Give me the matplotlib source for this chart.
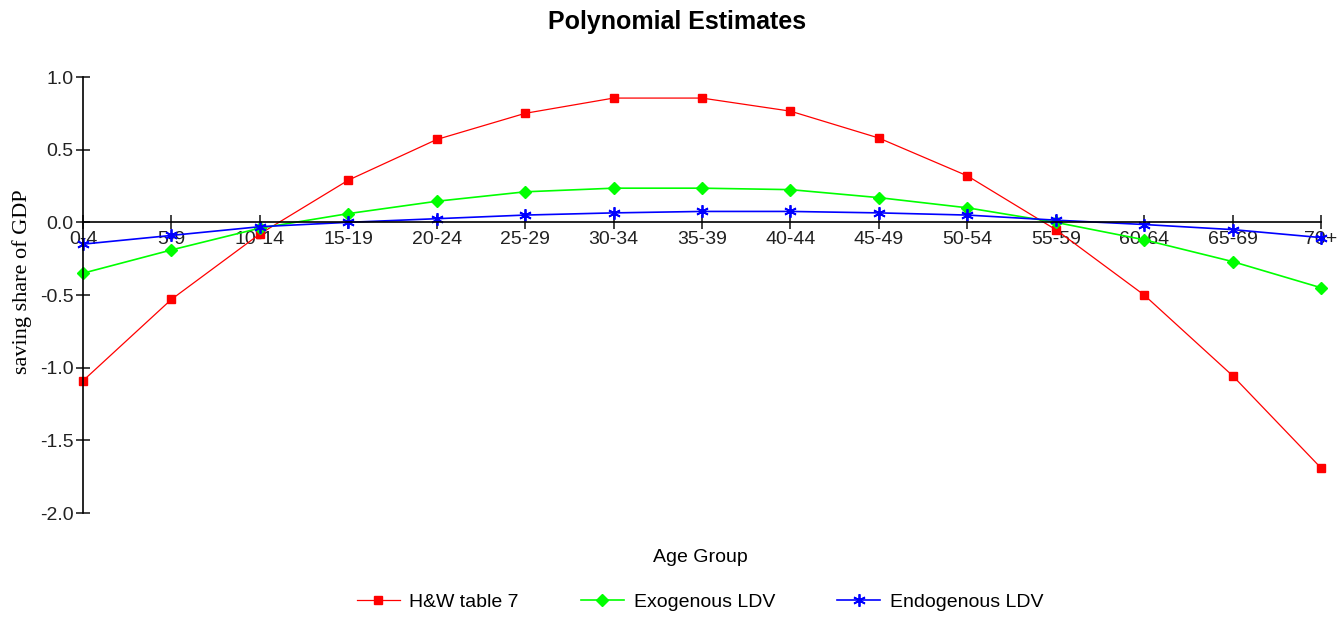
import matplotlib
matplotlib.use("Agg")
import matplotlib.pyplot as plt

# age groups and the three polynomial estimates
age_groups = ["0-4", "5-9", "10-14", "15-19", "20-24", "25-29", "30-34", "35-39",
              "40-44", "45-49", "50-54", "55-59", "60-64", "65-69", "70+"]
hw_table7 = [-1.09, -0.53, -0.08, 0.29, 0.57, 0.75, 0.855, 0.855,
             0.765, 0.58, 0.32, -0.05, -0.50, -1.055, -1.69]
exogenous = [-0.35, -0.19, -0.04, 0.06, 0.145, 0.21, 0.235, 0.235,
             0.225, 0.17, 0.10, 0.0, -0.12, -0.27, -0.45]
endogenous = [-0.15, -0.09, -0.03, 0.0, 0.025, 0.05, 0.065, 0.075,
              0.075, 0.065, 0.05, 0.015, -0.015, -0.05, -0.105]

plt.rcParams['font.family'] = ['Liberation Sans', 'DejaVu Sans']

fig = plt.figure(figsize=(13.41, 6.18), dpi=100)
ax = fig.add_axes([83/1341, 1 - 513/618, (1321 - 83)/1341, (513 - 77)/618])

x = range(len(age_groups))
ax.plot(x, hw_table7, color='#ff0000', lw=0.9, marker='s', ms=6, clip_on=False,
        label='H&W table 7')
ax.plot(x, exogenous, color='#00ff00', lw=1.2, marker='D', ms=6, clip_on=False,
        label='Exogenous LDV')
ax.plot(x, endogenous, color='#0000ff', lw=1.2, marker=(6, 2, 0), ms=9, mew=1.3,
        clip_on=False, label='Endogenous LDV')

ax.set_xlim(0, len(age_groups) - 1)
ax.set_ylim(-2.0, 1.0)
ax.set_yticks([-2.0, -1.5, -1.0, -0.5, 0.0, 0.5, 1.0])
ax.set_yticklabels(['-2.0', '-1.5', '-1.0', '-0.5', '0.0', '0.5', '1.0'])
ax.set_xticks(list(x))
ax.set_xticklabels(age_groups)

ax.spines['top'].set_visible(False)
ax.spines['right'].set_visible(False)
ax.spines['bottom'].set_position(('data', 0))
for s in ['left', 'bottom']:
    ax.spines[s].set_linewidth(1.2)
    ax.spines[s].set_color('black')
ax.tick_params(axis='both', direction='inout', length=10, width=1.2, labelsize=14,
               colors='#222222')
ax.tick_params(axis='x', pad=1)
ax.tick_params(axis='y', pad=2)

fig.text(677/1341, 1 - 22/618, 'Polynomial Estimates', ha='center', va='center',
         fontsize=18, fontweight='bold')
fig.text(700/1341, 1 - 558/618, 'Age Group', ha='center', va='center', fontsize=14)
fig.text(22/1341, 1 - 282/618, 'saving share of GDP', ha='center', va='center',
         rotation=90, fontsize=16, family=['Liberation Serif'])

fig.legend(loc='center', bbox_to_anchor=(700/1341, 1 - 602/618), ncol=3, frameon=False,
           fontsize=14, handlelength=2.2, columnspacing=3.2, handletextpad=0.5)

fig.savefig('out.png', dpi=100)
